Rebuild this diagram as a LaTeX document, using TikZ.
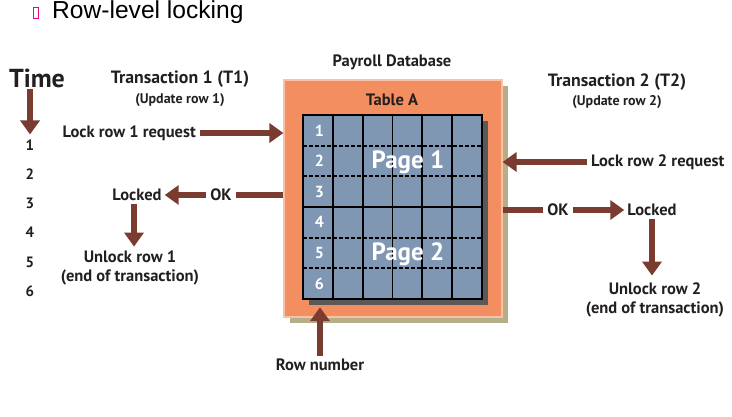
\documentclass[tikz,border=0pt]{standalone}
\usepackage{fontspec}
\setmainfont{PT Sans}
\newfontfamily\titlefont{Liberation Sans}
\usetikzlibrary{arrows.meta,positioning,shadows}
\definecolor{arrowbrown}{HTML}{7A3B30}
\definecolor{boxorange}{HTML}{F28E60}
\definecolor{gridblue}{HTML}{8097B4}
\definecolor{khaki}{HTML}{B5AE86}
\definecolor{textgray}{HTML}{231F20}
\tikzset{>={Triangle[length=14pt,width=19pt]}}
\tikzset{
  flow/.style={->,line width=6pt,draw=arrowbrown},
  bar/.style={line width=6pt,draw=arrowbrown},
  lbl/.style={font=\bfseries\fontsize{16.5}{19}\selectfont,text=textgray,inner sep=1pt},
  head/.style={font=\bfseries\fontsize{17.8}{20}\selectfont,text=textgray,inner sep=1pt},
  sub/.style={font=\bfseries\fontsize{14}{16}\selectfont,text=textgray,inner sep=1pt},
  rownum/.style={font=\bfseries\fontsize{16}{18}\selectfont,text=white,inner sep=1pt},
  page/.style={font=\bfseries\fontsize{25}{28}\selectfont,text=white,inner sep=1pt}
}

\begin{document}
\begin{tikzpicture}[x=1pt,y=-1pt]
\useasboundingbox (0,0) rectangle (732,416);
\draw[magenta,line width=0.8pt] (33,7.5) rectangle (38,18);
\node[anchor=west,font=\titlefont\fontsize{24.6}{27}\selectfont,inner sep=0pt] (title) at (52,12) {Row-level locking};

\node[fill=boxorange,draw=boxorange!55!white,line width=1.2pt,minimum width=218pt,minimum height=237pt,
  drop shadow={shadow xshift=6pt,shadow yshift=-6pt,fill=khaki,opacity=1}] (dbbox) at (393,198.5) {};
\node[lbl] (dbname) at (392,62) {Payroll Database};
\node[lbl] (tabname) at (392,100) {Table A};
\node[fill=gridblue,minimum width=179pt,minimum height=184pt,inner sep=0pt,
  drop shadow={shadow xshift=6pt,shadow yshift=-6pt,fill=black!65,opacity=1}] (tablegrid) at (392.5,207) {};
\begin{scope}[shift={(303,115)},x=29.83pt,y=-30.67pt]
  \foreach \c in {1,...,5}
    \draw[line width=1.8pt] (\c,0) -- (\c,6);
  \foreach \r in {1,2,4,5}
    \draw[line width=1.8pt,dash pattern=on 3.5pt off 2.5pt] (0,\r) -- (6,\r);
  \draw[line width=1.8pt] (0,3) -- (6,3);
  \draw[line width=1.8pt] (0,0) rectangle (6,6);
  \foreach \r in {1,...,6}
    \node[rownum] (row\r) at (0.55,\r-0.5) {\r};
  \node[page] (page1) at (3.52,1.55) {Page 1};
  \node[page] (page2) at (3.52,4.55) {Page 2};
\end{scope}

\node[font=\bfseries\fontsize{26}{30}\selectfont,text=textgray,inner sep=1pt] (time) at (37,78) {Time};
\foreach \i/\y in {1/145,2/174,3/203,4/232,5/262,6/291}
  \node[lbl,font=\bfseries\fontsize{15}{18}\selectfont] (t\i) at (30,\y) {\i};
\draw[flow,shorten >=4pt] (t1.north |- time.south) -- (t1.north);

\node[head] (tr1) at (180,79) {Transaction 1 (T1)};
\node[sub] (upd1) at (180,100) {(Update row 1)};
\node[lbl,anchor=east] (req1) at (197,133) {Lock row 1 request};
\draw[flow,shorten <=3pt] (req1.east) -- (req1 -| dbbox.west);
\node[lbl] (ok1) at (221,195) {OK};
\draw[bar,shorten >=3pt] (dbbox.west |- ok1) -- (ok1.east);
\node[lbl] (lock1) at (137,195) {Locked};
\draw[flow,shorten <=3pt,shorten >=2pt] (ok1.west) -- (lock1.east);
\node[lbl,align=center] (unl1) at (130,268) {Unlock row 1\\(end of transaction)};
\draw[flow,shorten <=2pt,shorten >=3pt] (lock1.south -| 134,0) -- (unl1.north -| 134,0);

\node[head] (tr2) at (617,82) {Transaction 2 (T2)};
\node[sub] (upd2) at (617,102) {(Update row 2)};
\node[lbl,anchor=west] (req2) at (590,162) {Lock row 2 request};
\draw[flow,shorten <=3pt] (req2.west) -- (req2 -| dbbox.east);
\node[lbl] (ok2) at (558,210) {OK};
\draw[bar,shorten >=3pt] (dbbox.east |- ok2) -- (ok2.west);
\node[lbl] (lock2) at (652,210) {Locked};
\draw[flow,shorten <=3pt,shorten >=2pt] (ok2.east) -- (lock2.west);
\node[lbl,align=center] (unl2) at (655,300) {Unlock row 2\\(end of transaction)};
\draw[flow,shorten <=2pt,shorten >=6pt] (lock2.south) -- (lock2.south |- unl2.north);

\node[lbl] (rowlbl) at (320,365) {Row number};
\draw[flow,shorten <=2pt,shorten >=8pt] (rowlbl.north) -- (rowlbl.north |- tablegrid.south);
\end{tikzpicture}
\end{document}
